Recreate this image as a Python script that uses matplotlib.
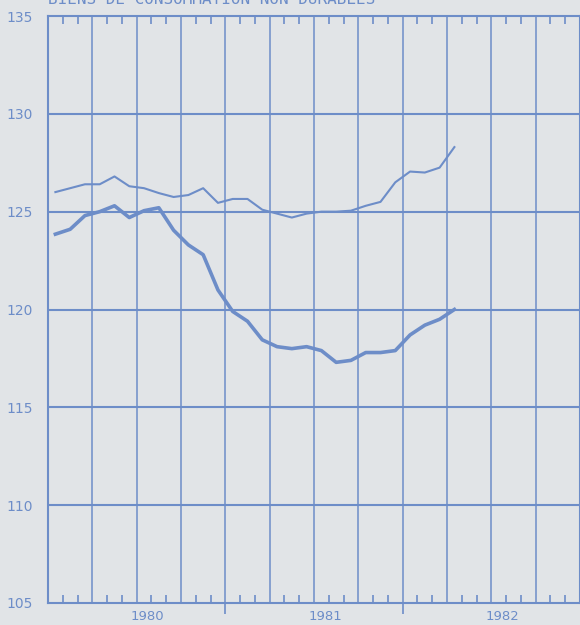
import numpy as np
import matplotlib.pyplot as plt
from matplotlib.ticker import MultipleLocator, FixedLocator

# Monthly index values, Jan 1980 .. Apr 1982
months = np.arange(28)
series_thin = [126.0, 126.2, 126.4, 126.4, 126.8, 126.3, 126.2, 125.95, 125.75, 125.85,
               126.2, 125.45, 125.65, 125.65, 125.1, 124.9, 124.7, 124.9, 125.0, 125.0,
               125.05, 125.3, 125.5, 126.5, 127.05, 127.0, 127.25, 128.3]
series_thick = [123.85, 124.1, 124.8, 125.0, 125.3, 124.7, 125.05, 125.2, 124.05, 123.3,
                122.8, 121.0, 119.9, 119.4, 118.45, 118.1, 118.0, 118.1, 117.9, 117.3,
                117.4, 117.8, 117.8, 117.9, 118.7, 119.2, 119.5, 120.0]
years = ['1980', '1981', '1982']
title = 'BIENS DE CONSOMMATION NON DURABLES'

blue = '#6d8dc8'
bg = '#e1e4e7'

fig = plt.figure(figsize=(5.8, 6.25), dpi=100, facecolor=bg)
ax = fig.add_axes([48 / 580, 1 - 603 / 625, 1 - 48 / 580, (603 - 16) / 625])
ax.set_facecolor(bg)

x = months + 0.5
ax.plot(x, series_thin, color=blue, lw=1.5, zorder=3)
ax.plot(x, series_thick, color=blue, lw=2.6, zorder=3)

ax.set_xlim(0, 36)
ax.set_ylim(105, 135)

# grid: quarters vertically, every 5 points horizontally
for q in range(3, 36, 3):
    ax.axvline(q, color=blue, lw=1.1, zorder=1)
for v in range(110, 135, 5):
    ax.axhline(v, color=blue, lw=1.5, zorder=1)

for s in ax.spines.values():
    s.set_color(blue)
    s.set_linewidth(1.5)

ax.yaxis.set_major_locator(MultipleLocator(5))
ax.tick_params(axis='y', length=0, colors=blue, labelsize=10, pad=11)

ax.xaxis.set_major_locator(FixedLocator([12, 24]))
ax.xaxis.set_minor_locator(FixedLocator([m for m in range(1, 36) if m % 3 != 0]))
ax.tick_params(axis='x', which='major', direction='out', length=8, width=1.2,
               colors=blue, labelbottom=False)
ax.tick_params(axis='x', which='minor', direction='in', length=6, width=1.2,
               colors=blue, top=True, bottom=True)

for i, yr in enumerate(years):
    ax.text(i * 12 + 6.75, 104.65, yr, color=blue, fontsize=9.5, ha='center', va='top')

fig.text(48 / 580, 1 - 4 / 625, title, color=blue, fontsize=11.5,
         family='DejaVu Sans Mono', ha='left', va='baseline')

fig.savefig('out.png', dpi=100, facecolor=bg)
